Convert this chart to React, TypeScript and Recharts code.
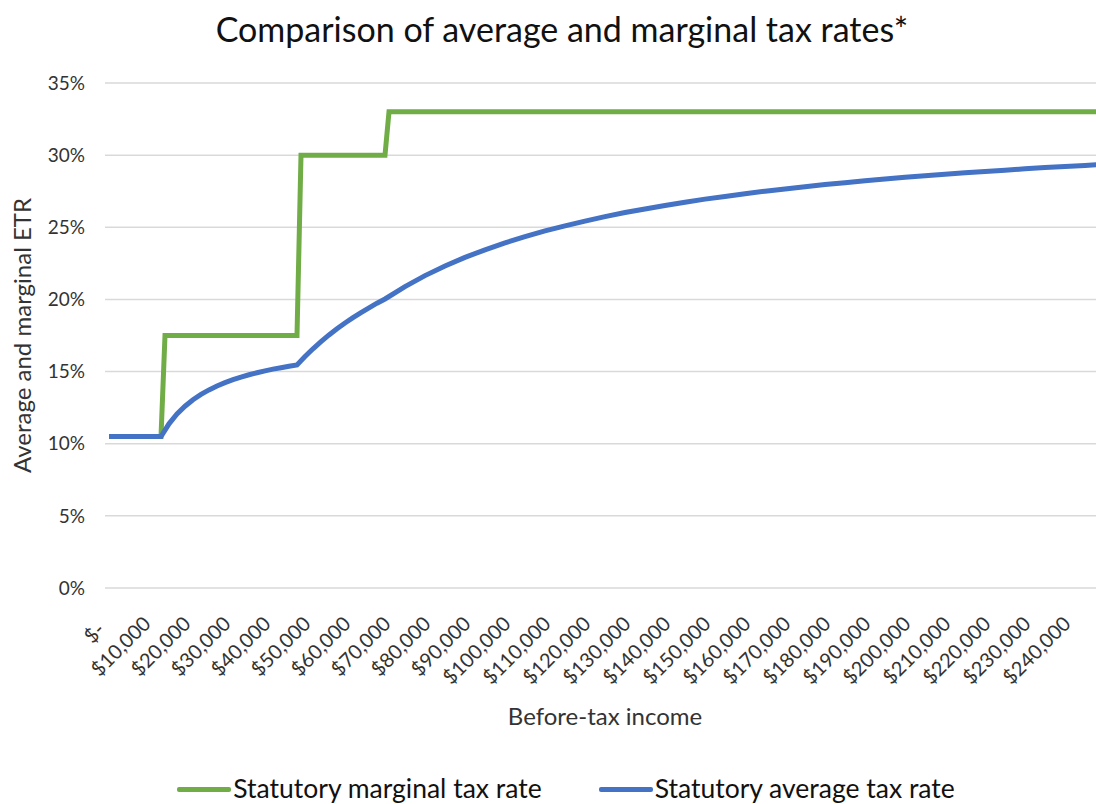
import React from 'react'
import { LineChart, Line, XAxis, YAxis, CartesianGrid, Label } from 'recharts'

// before-tax income breakpoints for the statutory marginal rate (step line)
const marginalIncome = [1000, 14000, 15000, 48000, 49000, 70000, 71000, 250000]
const marginalRate = [10.5, 10.5, 17.5, 17.5, 30, 30, 33, 33]

// average rate
const averageIncome = [
  1000, 2000, 4000, 6000, 8000, 10000, 12000, 14000, 16000, 18000, 20000, 22000, 24000, 26000,
  28000, 30000, 32000, 34000, 36000, 38000, 40000, 42000, 44000, 46000, 48000, 50000, 52000,
  54000, 56000, 58000, 60000, 62000, 64000, 66000, 68000, 70000, 75000, 80000, 85000, 90000,
  95000, 100000, 105000, 110000, 115000, 120000, 125000, 130000, 135000, 140000, 145000, 150000,
  155000, 160000, 165000, 170000, 175000, 180000, 185000, 190000, 195000, 200000, 205000, 210000,
  215000, 220000, 225000, 230000, 235000, 240000, 245000, 250000,
]
const averageRate = [
  10.5, 10.5, 10.5, 10.5, 10.5, 10.5, 10.5, 10.5, 11.38, 12.06, 12.6, 13.05, 13.42, 13.73,
  14.0, 14.23, 14.44, 14.62, 14.78, 14.92, 15.05, 15.17, 15.27, 15.37, 15.46, 16.04, 16.58,
  17.07, 17.54, 17.97, 18.37, 18.74, 19.09, 19.42, 19.74, 20.03, 20.89, 21.65, 22.32, 22.91,
  23.44, 23.92, 24.35, 24.75, 25.1, 25.43, 25.74, 26.02, 26.27, 26.51, 26.74, 26.95,
  27.14, 27.33, 27.5, 27.66, 27.81, 27.96, 28.09, 28.22, 28.34, 28.46, 28.57, 28.68,
  28.78, 28.87, 28.96, 29.05, 29.14, 29.22, 29.29, 29.37,
]

const xTicks = [
  0, 10000, 20000, 30000, 40000, 50000, 60000, 70000, 80000, 90000, 100000, 110000, 120000,
  130000, 140000, 150000, 160000, 170000, 180000, 190000, 200000, 210000, 220000, 230000, 240000,
]
const yTicks = [0, 5, 10, 15, 20, 25, 30, 35]

const GREEN = '#70AD47'
const BLUE = '#4472C4'
const TEXT = '#333'
const FONT = 'Lato, "Open Sans", sans-serif'

const marginalData = marginalIncome.map((income, i) => ({ income, rate: marginalRate[i] }))
const averageData = averageIncome.map((income, i) => ({ income, rate: averageRate[i] }))

const money = (v: number) => (v === 0 ? '$-' : '$' + v.toLocaleString('en-US'))

function IncomeTick(props: any) {
  const { x, y, payload } = props
  const shift = payload.value === 0 ? 6 : 0
  return (
    <g transform={`translate(${x + 2 - shift},${y + 32 + shift})`}>
      <text
        transform="rotate(-45)"
        textAnchor="end"
        dy="0.35em"
        fill={TEXT}
        fontSize={20}
        fontFamily={FONT}
      >
        {money(payload.value)}
      </text>
    </g>
  )
}

function LegendItem({ color, label }: { color: string; label: string }) {
  return (
    <div style={{ display: 'flex', alignItems: 'center' }}>
      <span style={{ width: 54, height: 5, background: color, borderRadius: 2, marginRight: 2, marginTop: 2 }} />
      <span>{label}</span>
    </div>
  )
}

export default function App() {
  return (
    <div
      style={{
        position: 'absolute',
        left: 0,
        top: 0,
        width: 1096,
        height: 804,
        overflow: 'hidden',
        background: '#fff',
        fontFamily: FONT,
      }}
    >
      <div
        style={{
          position: 'absolute',
          top: 9,
          left: 0,
          width: 1124,
          textAlign: 'center',
          fontSize: 34,
          color: '#111',
          lineHeight: 1.2,
        }}
      >
        Comparison of average and marginal tax rates*
      </div>
      <div style={{ position: 'absolute', top: 0, left: 0 }}>
        <LineChart width={1124} height={804} margin={{ top: 83, right: 19, bottom: 76, left: 0 }}>
          <CartesianGrid stroke="#d9d9d9" strokeWidth={1.5} vertical={false} />
          <XAxis
            dataKey="income"
            type="number"
            domain={[0, 250000]}
            ticks={xTicks}
            interval={0}
            tick={<IncomeTick />}
            tickLine={false}
            axisLine={false}
            tickSize={0}
            tickMargin={0}
            height={140}
            allowDataOverflow
          >
            <Label
              value="Before-tax income"
              position="insideBottom"
              offset={3}
              style={{ fontSize: 24, fill: TEXT, fontFamily: FONT }}
            />
          </XAxis>
          <YAxis
            type="number"
            domain={[0, 35]}
            ticks={yTicks}
            tickFormatter={(v) => v + '%'}
            tick={{ fontSize: 19, fill: TEXT, fontFamily: FONT }}
            tickLine={false}
            axisLine={false}
            tickSize={0}
            tickMargin={20}
            width={105}
          >
            <Label
              value="Average and marginal ETR"
              angle={-90}
              position="insideLeft"
              offset={22}
              style={{ fontSize: 24, fill: TEXT, fontFamily: FONT, textAnchor: 'middle' }}
            />
          </YAxis>
          <Line
            data={marginalData}
            dataKey="rate"
            name="Statutory marginal tax rate"
            type="linear"
            stroke={GREEN}
            strokeWidth={5}
            dot={false}
            isAnimationActive={false}
          />
          <Line
            data={averageData}
            dataKey="rate"
            name="Statutory average tax rate"
            type="linear"
            stroke={BLUE}
            strokeWidth={5}
            dot={false}
            isAnimationActive={false}
          />
        </LineChart>
      </div>
      <div
        style={{
          position: 'absolute',
          top: 773,
          left: 0,
          width: 1132,
          display: 'flex',
          justifyContent: 'center',
          gap: 57,
          fontSize: 26.5,
          color: '#111',
          lineHeight: 1.2,
        }}
      >
        <LegendItem color={GREEN} label="Statutory marginal tax rate" />
        <LegendItem color={BLUE} label="Statutory average tax rate" />
      </div>
    </div>
  )
}
